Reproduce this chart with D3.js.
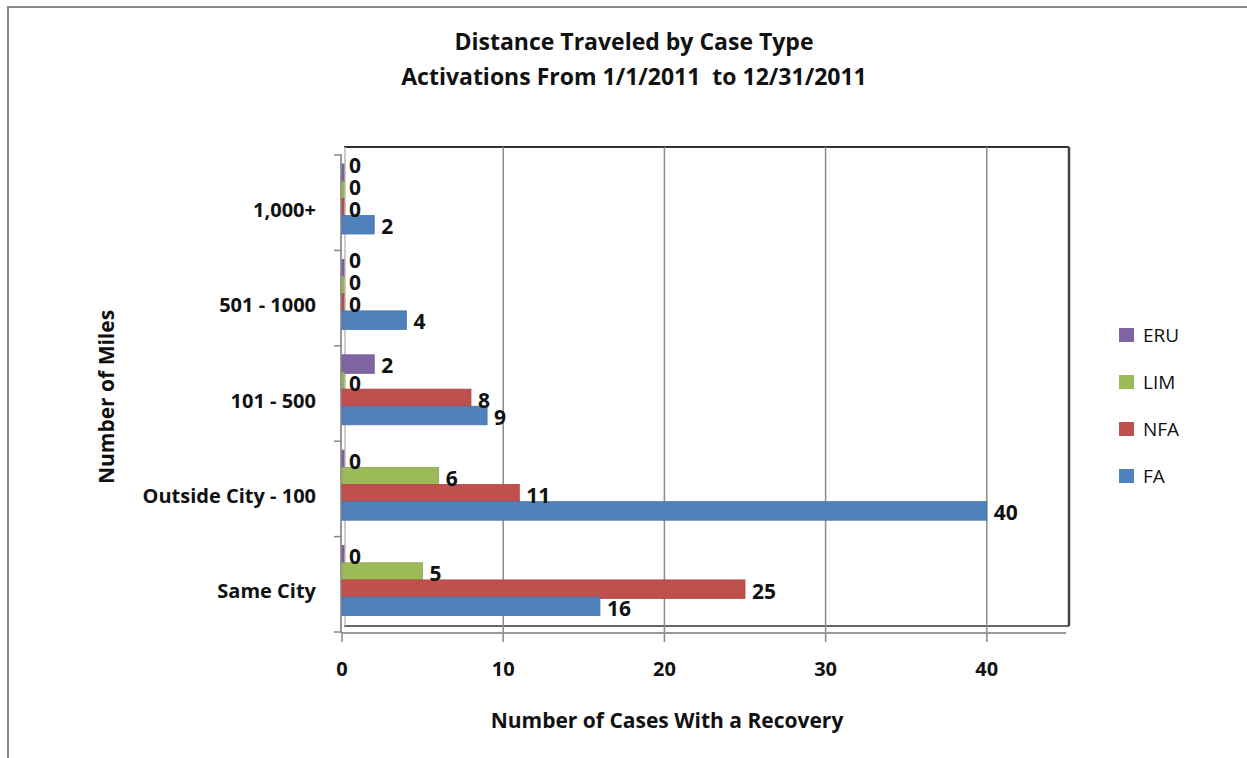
<!DOCTYPE html>
<html><head><meta charset="utf-8">
<script src="https://cdn.jsdelivr.net/npm/d3@7"></script>
<style>body{margin:0;background:#fff}svg{display:block}text{font-family:"Open Sans",Lato,sans-serif;white-space:pre}</style>
</head><body><svg id="c" width="1247" height="758"></svg>
<script>
const categories = ["1,000+", "501 - 1000", "101 - 500", "Outside City - 100", "Same City"];
const seriesNames = ["ERU", "LIM", "NFA", "FA"];
const colors = ["#8064A2", "#9BBB59", "#C0504D", "#4F81BD"];
const ERU = [0, 0, 2, 0, 0];
const LIM = [0, 0, 0, 6, 5];
const NFA = [0, 0, 8, 11, 25];
const FA  = [2, 4, 9, 40, 16];
const xTicks = [0, 10, 20, 30, 40];
const values = [ERU, LIM, NFA, FA];

const svg = d3.select("#c");
svg.append("rect").attr("x",8).attr("y",7).attr("width",1300).attr("height",800)
  .attr("fill","none").attr("stroke","#8a8a8a").attr("stroke-width",2);

const L = 342, R = 1069, T = 155, B = 632;
const x = d3.scaleLinear().domain([0, 45]).range([L, L + 45*16.12]);
const y = d3.scaleBand().domain(categories).range([T, B]);
const inner = d3.scaleBand().domain(seriesNames).range([9, 79]).paddingInner(-0.08);

// back wall
svg.append("line").attr("x1",L+2).attr("x2",R).attr("y1",147).attr("y2",147).attr("stroke","#333").attr("stroke-width",2);
svg.append("line").attr("x1",R).attr("x2",R).attr("y1",147).attr("y2",626).attr("stroke","#444").attr("stroke-width",2.5);
svg.append("line").attr("x1",L+2).attr("x2",R).attr("y1",626).attr("y2",626).attr("stroke","#333").attr("stroke-width",1.5);
svg.append("line").attr("x1",L+3).attr("x2",L+3).attr("y1",147).attr("y2",626).attr("stroke","#bbb").attr("stroke-width",1.5);

// gridlines
svg.append("g").selectAll("line").data(xTicks.filter(d=>d>0)).join("line")
  .attr("x1",d=>x(d)).attr("x2",d=>x(d)).attr("y1",147).attr("y2",633)
  .attr("stroke","#8c8c8c").attr("stroke-width",1.5);

// floor / axes
svg.append("line").attr("x1",L).attr("x2",1066).attr("y1",633).attr("y2",633).attr("stroke","#999").attr("stroke-width",2);
svg.append("line").attr("x1",L-1).attr("x2",L-1).attr("y1",155).attr("y2",633).attr("stroke","#999").attr("stroke-width",2);

const yTickPos = categories.map(c=>y(c)).concat([B]);
svg.append("g").selectAll("line").data(yTickPos).join("line")
  .attr("x1",L-8).attr("x2",L).attr("y1",d=>d).attr("y2",d=>d).attr("stroke","#888").attr("stroke-width",1.5);
svg.append("g").selectAll("line").data(xTicks).join("line")
  .attr("x1",d=>x(d)).attr("x2",d=>x(d)).attr("y1",633).attr("y2",642).attr("stroke","#888").attr("stroke-width",1.5);

// bars
const rows = [];
seriesNames.forEach((s,si)=>categories.forEach((c,ci)=>rows.push({s,si,c,ci,v:values[si][ci]})));
svg.append("g").selectAll("rect").data(rows).join("rect")
  .attr("x",L).attr("y",d=>y(d.c)+inner(d.s))
  .attr("width",d=>Math.max(x(d.v)-L,2)).attr("height",inner.bandwidth())
  .attr("fill",d=>colors[d.si]).attr("stroke",d=>d3.color(colors[d.si]).darker(0.3)).attr("stroke-width",0.8);

// value labels with simple vertical collision relaxation per category
rows.forEach(d=>{ d.lx = x(d.v)+7; d.ly = y(d.c)+inner(d.s)+inner.bandwidth()/2+2; d.w = String(d.v).length*13; });
categories.forEach(c=>{
  const g = rows.filter(d=>d.c===c).sort((a,b)=>b.si-a.si); // bottom-up
  for (let i=1;i<g.length;i++){
    for (let j=0;j<i;j++){
      const a=g[j], b=g[i];
      const xo = b.lx < a.lx + a.w && a.lx < b.lx + b.w;
      if (xo && a.ly - b.ly < 22) b.ly = a.ly - 22;
    }
  }
});
svg.append("g").selectAll("text").data(rows).join("text")
  .attr("x",d=>d.lx).attr("y",d=>d.ly)
  .attr("dy","0.35em").attr("font-weight","bold").attr("font-size",21).attr("fill","#111")
  .text(d=>d.v);

// category labels
svg.append("g").selectAll("text").data(categories).join("text")
  .attr("x",316).attr("y",d=>y(d)+y.bandwidth()/2+7).attr("dy","0.35em")
  .attr("text-anchor","end").attr("font-weight","bold").attr("font-size",20).attr("fill","#111").text(d=>d);

// x tick labels
svg.append("g").selectAll("text").data(xTicks).join("text")
  .attr("x",d=>x(d)).attr("y",669).attr("dy","0.35em").attr("text-anchor","middle")
  .attr("font-weight","bold").attr("font-size",20).attr("fill","#111").text(d=>d);

// titles
svg.append("text").attr("x",634).attr("y",42).attr("dy","0.35em").attr("text-anchor","middle")
  .attr("font-weight","bold").attr("font-size",23).attr("fill","#111").text("Distance Traveled by Case Type");
svg.append("text").attr("x",634).attr("y",77).attr("dy","0.35em").attr("text-anchor","middle")
  .attr("font-weight","bold").attr("font-size",23).attr("fill","#111").text("Activations From 1/1/2011  to 12/31/2011");
svg.append("text").attr("x",667).attr("y",721).attr("dy","0.35em").attr("text-anchor","middle")
  .attr("font-weight","bold").attr("font-size",21).attr("fill","#111").text("Number of Cases With a Recovery");
svg.append("text").attr("transform","translate(107,397) rotate(-90)").attr("dy","0.35em").attr("text-anchor","middle")
  .attr("font-weight","bold").attr("font-size",21).attr("fill","#111").text("Number of Miles");

// legend
const lg = svg.append("g").selectAll("g").data(seriesNames).join("g")
  .attr("transform",(d,i)=>`translate(1119,${335+i*47})`);
lg.append("rect").attr("x",0).attr("y",-7).attr("width",15).attr("height",14).attr("fill",(d,i)=>colors[i]);
lg.append("text").attr("x",24).attr("dy","0.35em").attr("font-size",19).attr("fill","#111").text(d=>d);
</script></body></html>
